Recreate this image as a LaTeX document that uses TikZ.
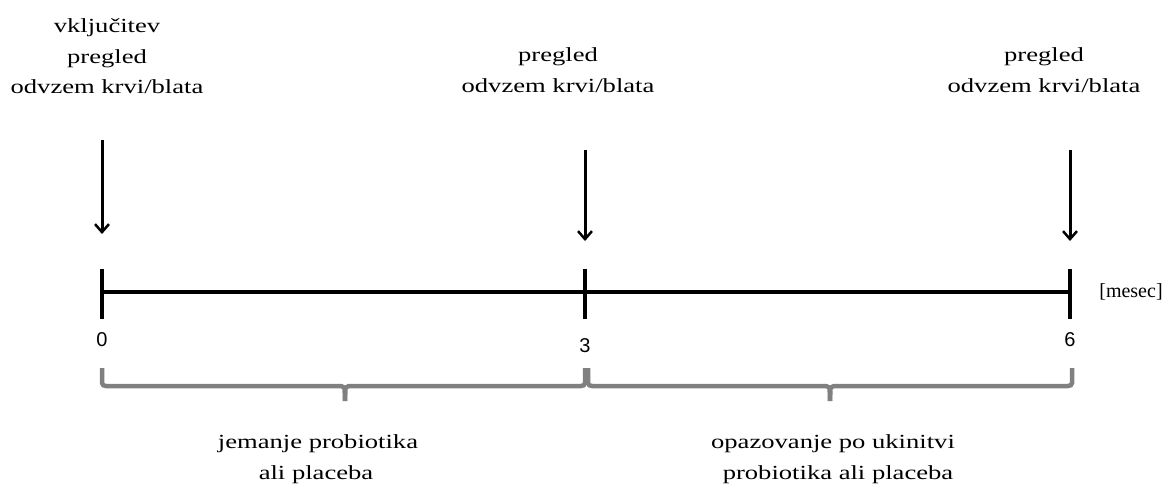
\documentclass[tikz,border=0pt]{standalone}
\usepackage{fontspec}
\setmainfont{Liberation Serif}
\newfontfamily\wideserif[FakeStretch=1.33]{Liberation Serif}
\setsansfont{Liberation Sans}
\usetikzlibrary{arrows.meta}
\begin{document}
\begin{tikzpicture}[x=1pt,y=-1pt,
  lbl/.style={font=\wideserif\fontsize{20}{31}\selectfont, anchor=base, inner sep=0pt},
  num/.style={font=\sffamily\fontsize{20}{22}\selectfont, inner sep=0pt},
  unit/.style={font=\fontsize{20}{22}\selectfont, inner sep=0pt},
  axis/.style={line width=3.5pt},
  evarrow/.style={line width=3pt, -{Straight Barb[length=8pt,width=14pt,line width=2.5pt]}},
  bracebar/.style={draw=gray, line width=4.5pt, line cap=butt}]
\useasboundingbox (0,0) rectangle (1172,485);
% axis
\coordinate (t0) at (102,292);
\coordinate (t3) at (585,292);
\coordinate (t6) at (1070,292);
\draw[axis] (t0) -- (t6);
\foreach \c in {t0,t3,t6}{
  \draw[axis] ([yshift=-27pt]\c) -- ([yshift=23pt]\c);
}
\node[unit] (unit) at (1131,292) {[mesec]};
\node[num] (n0) at (102,340) {0};
\node[num] (n3) at (585,346) {3};
\node[num] (n6) at (1070,340) {6};
% arrows
\coordinate (a0s) at (102,140);
\coordinate (a0e) at (102,234);
\coordinate (a3s) at (585,150);
\coordinate (a3e) at (585,241);
\coordinate (a6s) at (1070,150);
\coordinate (a6e) at (1070,241);
\draw[evarrow] (a0s) -- (a0e);
\draw[evarrow] (a3s) -- (a3e);
\draw[evarrow] (a6s) -- (a6e);
% top labels
\node[lbl] (l0a) at (107,32) {vključitev};
\node[lbl] (l0b) at (107,63) {pregled};
\node[lbl] (l0c) at (107,93) {odvzem krvi/blata};
\node[lbl] (l3b) at (558,61) {pregled};
\node[lbl] (l3c) at (558,92) {odvzem krvi/blata};
\node[lbl] (l6b) at (1044,61) {pregled};
\node[lbl] (l6c) at (1044,92) {odvzem krvi/blata};
% braces
\coordinate (b1l) at (102,368);
\coordinate (b1m) at (345,401);
\coordinate (b1r) at (585,368);
\coordinate (b2l) at (588,368);
\coordinate (b2m) at (830,401);
\coordinate (b2r) at (1072,368);
\draw[bracebar] (b1l) -- (102,383) to[out=-90,in=180] (106,386) -- (341,386) to[out=0,in=90] (b1m);
\draw[bracebar] (b1r) -- (585,383) to[out=-90,in=0] (581,386) -- (349,386) to[out=180,in=90] (b1m);
\draw[bracebar] (b2l) -- (588,383) to[out=-90,in=180] (592,386) -- (826,386) to[out=0,in=90] (b2m);
\draw[bracebar] (b2r) -- (1072,383) to[out=-90,in=0] (1068,386) -- (834,386) to[out=180,in=90] (b2m);
% bottom labels
\node[lbl] (p1a) at (318,448) {jemanje probiotika};
\node[lbl] (p1b) at (316,479) {ali placeba};
\node[lbl] (p2a) at (833,448) {opazovanje po ukinitvi};
\node[lbl] (p2b) at (838,479) {probiotika ali placeba};
\end{tikzpicture}
\end{document}
